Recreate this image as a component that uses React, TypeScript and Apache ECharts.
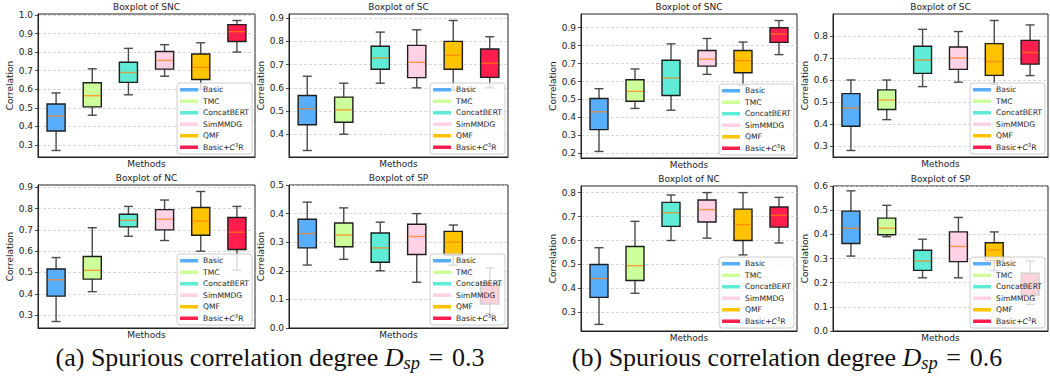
import React, { useEffect, useRef } from 'react';
import * as echarts from 'echarts';

// ---------- data ----------
const METHODS = ['Basic', 'TMC', 'ConcatBERT', 'SimMMDG', 'QMF', 'Basic+C³R'];
const COLORS = ['#58aefb', '#ccff99', '#5eecd6', '#ffd1e6', '#ffc300', '#ff1e4e'];

// each row: [min, Q1, median, Q3, max] in METHODS order
const A_SNC = [
  [0.27, 0.375, 0.455, 0.52, 0.58],
  [0.46, 0.505, 0.565, 0.635, 0.71],
  [0.57, 0.637, 0.69, 0.745, 0.82],
  [0.67, 0.708, 0.755, 0.803, 0.84],
  [0.6, 0.652, 0.718, 0.79, 0.85],
  [0.8, 0.857, 0.91, 0.948, 0.97],
];
const A_SC = [
  [0.33, 0.441, 0.51, 0.567, 0.65],
  [0.4, 0.452, 0.505, 0.56, 0.62],
  [0.62, 0.68, 0.729, 0.779, 0.84],
  [0.6, 0.644, 0.71, 0.783, 0.85],
  [0.59, 0.68, 0.74, 0.8, 0.89],
  [0.6, 0.645, 0.706, 0.767, 0.82],
];
const A_NC = [
  [0.27, 0.389, 0.466, 0.516, 0.57],
  [0.41, 0.469, 0.51, 0.575, 0.71],
  [0.67, 0.714, 0.745, 0.773, 0.81],
  [0.65, 0.7, 0.75, 0.795, 0.84],
  [0.6, 0.675, 0.741, 0.805, 0.88],
  [0.51, 0.608, 0.689, 0.758, 0.81],
];
const A_SP = [
  [0.22, 0.28, 0.33, 0.38, 0.44],
  [0.24, 0.284, 0.325, 0.367, 0.42],
  [0.2, 0.23, 0.28, 0.332, 0.37],
  [0.16, 0.257, 0.32, 0.363, 0.4],
  [0.22, 0.255, 0.3, 0.338, 0.36],
  [0.05, 0.084, 0.125, 0.157, 0.21],
];
const B_SNC = [
  [0.21, 0.332, 0.431, 0.505, 0.56],
  [0.45, 0.49, 0.545, 0.61, 0.67],
  [0.44, 0.522, 0.62, 0.719, 0.81],
  [0.64, 0.686, 0.725, 0.773, 0.84],
  [0.58, 0.649, 0.716, 0.773, 0.82],
  [0.75, 0.818, 0.865, 0.9, 0.94],
];
const B_SC = [
  [0.28, 0.39, 0.473, 0.538, 0.6],
  [0.42, 0.466, 0.509, 0.555, 0.6],
  [0.57, 0.63, 0.69, 0.753, 0.83],
  [0.59, 0.648, 0.7, 0.75, 0.82],
  [0.58, 0.621, 0.684, 0.765, 0.87],
  [0.62, 0.672, 0.725, 0.78, 0.85],
];
const B_NC = [
  [0.25, 0.363, 0.441, 0.5, 0.57],
  [0.38, 0.433, 0.495, 0.575, 0.68],
  [0.6, 0.659, 0.716, 0.759, 0.79],
  [0.61, 0.677, 0.729, 0.769, 0.8],
  [0.54, 0.6, 0.666, 0.731, 0.8],
  [0.59, 0.656, 0.705, 0.74, 0.78],
];
const B_SP = [
  [0.31, 0.362, 0.425, 0.496, 0.58],
  [0.39, 0.398, 0.425, 0.467, 0.52],
  [0.22, 0.251, 0.29, 0.334, 0.38],
  [0.22, 0.287, 0.35, 0.41, 0.47],
  [0.25, 0.29, 0.335, 0.365, 0.41],
  [0.11, 0.148, 0.19, 0.239, 0.29],
];

// tick labels
const TICKS_A_SNC = [0.3, 0.4, 0.5, 0.6, 0.7, 0.8, 0.9, 1.0];
const TICKS_A_SC = [0.4, 0.5, 0.6, 0.7, 0.8, 0.9];
const TICKS_A_NC = [0.3, 0.4, 0.5, 0.6, 0.7, 0.8, 0.9];
const TICKS_A_SP = [0.0, 0.1, 0.2, 0.3, 0.4, 0.5];
const TICKS_B_SNC = [0.2, 0.3, 0.4, 0.5, 0.6, 0.7, 0.8, 0.9];
const TICKS_B_SC = [0.3, 0.4, 0.5, 0.6, 0.7, 0.8];
const TICKS_B_NC = [0.3, 0.4, 0.5, 0.6, 0.7, 0.8];
const TICKS_B_SP = [0.0, 0.1, 0.2, 0.3, 0.4, 0.5, 0.6];

const CAPTION_A = ['(a) Spurious correlation degree ', 'D', 'sp', '\u2004=\u2004', '0.3'];
const CAPTION_B = ['(b) Spurious correlation degree ', 'D', 'sp', '\u2004=\u2004', '0.6'];

// ---------- layout ----------
const PANELS = [
  { title: 'Boxplot of SNC', data: A_SNC, ticks: TICKS_A_SNC, min: 0.235, max: 1.005, left: 38, top: 14, width: 217, height: 143 },
  { title: 'Boxplot of SC', data: A_SC, ticks: TICKS_A_SC, min: 0.302, max: 0.918, left: 289, top: 14, width: 219, height: 143 },
  { title: 'Boxplot of NC', data: A_NC, ticks: TICKS_A_NC, min: 0.2395, max: 0.9105, left: 38, top: 185, width: 217, height: 143 },
  { title: 'Boxplot of SP', data: A_SP, ticks: TICKS_A_SP, min: 0, max: 0.5, left: 289, top: 185, width: 219, height: 143 },
  { title: 'Boxplot of SNC', data: B_SNC, ticks: TICKS_B_SNC, min: 0.1735, max: 0.9765, left: 581, top: 14, width: 216, height: 144 },
  { title: 'Boxplot of SC', data: B_SC, ticks: TICKS_B_SC, min: 0.2505, max: 0.8995, left: 833, top: 14, width: 215, height: 143 },
  { title: 'Boxplot of NC', data: B_NC, ticks: TICKS_B_NC, min: 0.2225, max: 0.8275, left: 581, top: 186, width: 216, height: 145 },
  { title: 'Boxplot of SP', data: B_SP, ticks: TICKS_B_SP, min: 0, max: 0.6, left: 833, top: 186, width: 215, height: 145 },
];

const W = 1050;
const H = 381;
const FONT = 'DejaVu Sans';
const INK = '#222222';

export default function App() {
  const ref = useRef<HTMLDivElement>(null);

  useEffect(() => {
    const chart = echarts.init(ref.current as HTMLDivElement, null, { renderer: 'svg' });

    const renderBox = (params: any, api: any) => {
      const j = api.value(0);
      const pt = (v: number) => api.coord([j, v]);
      const pMin = pt(api.value(1));
      const pQ1 = pt(api.value(2));
      const pMed = pt(api.value(3));
      const pQ3 = pt(api.value(4));
      const pMax = pt(api.value(5));
      const band = api.size([1, 0])[0];
      const cx = pMin[0];
      const bw = band * 0.5;
      const cw = bw * 0.5;
      const wStyle = { stroke: '#4a4a4a', lineWidth: 1.4 };
      return {
        type: 'group',
        children: [
          { type: 'line', shape: { x1: cx, y1: pMin[1], x2: cx, y2: pQ1[1] }, style: wStyle },
          { type: 'line', shape: { x1: cx, y1: pQ3[1], x2: cx, y2: pMax[1] }, style: wStyle },
          { type: 'line', shape: { x1: cx - cw / 2, y1: pMin[1], x2: cx + cw / 2, y2: pMin[1] }, style: wStyle },
          { type: 'line', shape: { x1: cx - cw / 2, y1: pMax[1], x2: cx + cw / 2, y2: pMax[1] }, style: wStyle },
          {
            type: 'rect',
            shape: { x: cx - bw / 2, y: pQ3[1], width: bw, height: pQ1[1] - pQ3[1] },
            style: { fill: COLORS[params.dataIndex], stroke: '#1e1e1e', lineWidth: 1.4 },
          },
          {
            type: 'line',
            shape: { x1: cx - bw / 2 + 0.7, y1: pMed[1], x2: cx + bw / 2 - 0.7, y2: pMed[1] },
            style: { stroke: 'rgba(255,127,14,0.72)', lineWidth: 1.4 },
          },
        ],
      };
    };

    const grid = PANELS.map((p) => ({
      left: p.left,
      top: p.top,
      width: p.width,
      height: p.height,
      show: true,
      borderColor: INK,
      borderWidth: 1,
      backgroundColor: 'transparent',
      containLabel: false,
      outerBoundsMode: 'none',
    }));

    const xAxis = PANELS.map((p, i) => ({
      type: 'category',
      gridIndex: i,
      data: METHODS,
      boundaryGap: true,
      axisLabel: { show: false },
      axisTick: { show: false },
      axisLine: { show: true, lineStyle: { color: INK, width: 1 } },
      splitLine: { show: false },
      name: 'Methods',
      nameLocation: 'middle',
      nameGap: 2.5,
      nameTextStyle: { fontSize: 9, fontFamily: FONT, color: INK, verticalAlign: 'top' },
    }));

    const yAxis = PANELS.map((p, i) => ({
      type: 'value',
      gridIndex: i,
      min: p.min,
      max: p.max,
      axisLine: { show: true, lineStyle: { color: INK, width: 1 } },
      axisTick: { show: true, length: 3, lineStyle: { color: INK, width: 0.8 }, customValues: p.ticks },
      axisLabel: {
        customValues: p.ticks,
        formatter: (v: number) => v.toFixed(1),
        fontSize: 9,
        fontFamily: FONT,
        color: INK,
        margin: 5,
      },
      splitLine: { show: true, lineStyle: { color: '#cfcfcf', type: [3, 2], width: 0.8 } },
      name: 'Correlation',
      nameLocation: 'middle',
      nameGap: 20,
      nameTextStyle: { fontSize: 9, fontFamily: FONT, color: INK },
    }));

    const boxSeries = PANELS.map((p, i) => ({
      type: 'custom',
      name: 'panel' + i,
      xAxisIndex: i,
      yAxisIndex: i,
      data: p.data.map((d, j) => [j, ...d]),
      encode: { x: 0, y: [1, 2, 3, 4, 5] },
      renderItem: renderBox,
      silent: true,
      z: 2,
    }));

    const legendSeries = METHODS.map((m, k) => ({
      type: 'line',
      name: m,
      xAxisIndex: 0,
      yAxisIndex: 0,
      data: [],
      showSymbol: false,
      silent: true,
      itemStyle: { color: COLORS[k] },
      lineStyle: { color: COLORS[k] },
    }));

    const legendRich = {
      a: { fontSize: 7.6, fontFamily: FONT, color: INK, lineHeight: 9.5 },
      i: { fontSize: 7.6, fontFamily: FONT, color: INK, lineHeight: 9.5, fontStyle: 'italic' },
      s: { fontSize: 5.4, fontFamily: FONT, color: INK, lineHeight: 5, verticalAlign: 'top' },
    };

    const legend = PANELS.map((p) => ({
      data: METHODS,
      orient: 'vertical',
      right: W - (p.left + p.width) + 3,
      bottom: H - (p.top + p.height) + 3,
      icon: 'rect',
      itemWidth: 18,
      itemHeight: 3.5,
      itemGap: 2,
      padding: [2, 3, 2, 3],
      backgroundColor: 'rgba(255,255,255,0.8)',
      borderColor: '#cccccc',
      borderWidth: 1,
      borderRadius: 3,
      selectedMode: false,
      formatter: (name: string) => (name === 'Basic+C³R' ? '{a|Basic+}{i|C}{s|3}{a|R}' : '{a|' + name + '}'),
      textStyle: { fontSize: 7.6, fontFamily: FONT, color: INK, lineHeight: 9.5, rich: legendRich },
      z: 10,
    }));

    const titles = PANELS.map((p) => ({
      type: 'text',
      x: p.left + p.width / 2,
      y: p.top - 7,
      silent: true,
      style: {
        text: p.title,
        fontSize: 9,
        fontFamily: FONT,
        fill: INK,
        align: 'center',
        verticalAlign: 'middle',
      },
    }));

    const SERIF = 'Liberation Serif';
    const capRich = {
      n: { fontSize: 26, fontFamily: SERIF, fill: '#111', lineHeight: 30 },
      i: { fontSize: 26, fontFamily: SERIF, fill: '#111', lineHeight: 30, fontStyle: 'italic' },
      s: { fontSize: 18.5, fontFamily: SERIF, fill: '#111', lineHeight: 18, fontStyle: 'italic', verticalAlign: 'bottom' },
    };
    const capText = (c: string[]) => `{n|${c[0]}}{i|${c[1]}}{s|${c[2]}}{n|${c[3]}}{n|${c[4]}}`;
    const captions = [
      { cap: CAPTION_A, x: 270 },
      { cap: CAPTION_B, x: 787 },
    ].map((c) => ({
      type: 'text',
      x: c.x,
      y: 357,
      silent: true,
      style: { text: capText(c.cap), rich: capRich, align: 'center', verticalAlign: 'middle' },
    }));

    chart.setOption({
      animation: false,
      backgroundColor: '#ffffff',
      grid,
      xAxis,
      yAxis,
      legend,
      series: [...boxSeries, ...legendSeries],
      graphic: [...titles, ...captions],
    } as any);

    return () => chart.dispose();
  }, []);

  return (
    <div
      ref={ref}
      style={{ position: 'fixed', left: 0, top: 0, width: W, height: H, background: '#fff' }}
    />
  );
}
